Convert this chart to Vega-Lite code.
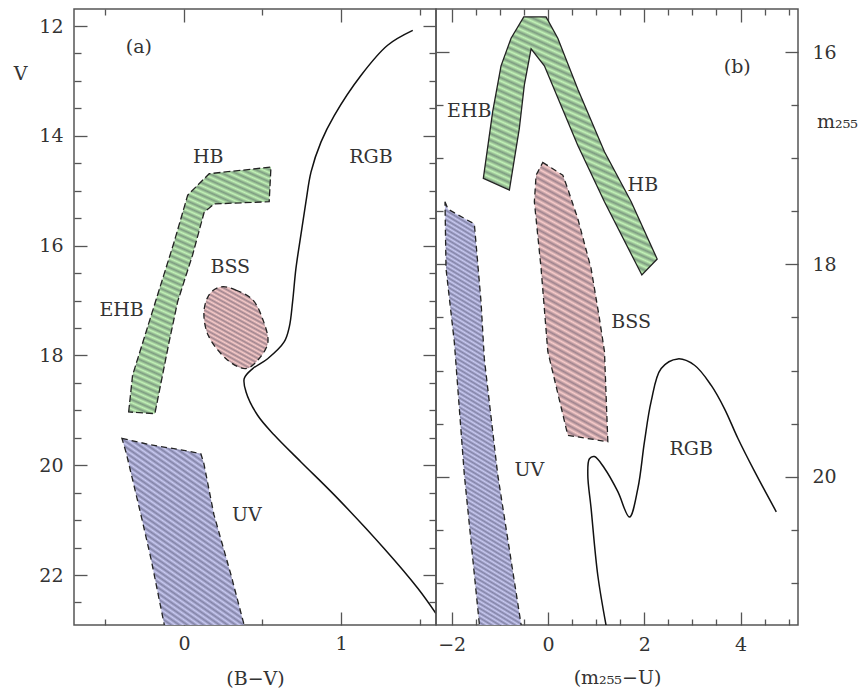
{
  "$schema": "https://vega.github.io/schema/vega-lite/v6.json",
  "background": "white",
  "padding": {"left": 12, "top": 7, "right": 0, "bottom": 0},
  "params": [
    {"name": "h25", "value": [
      {"offset":0,"color":"#0000"},{"offset":0.02,"color":"#0b0b2a60"},{"offset":0.04,"color":"#0000"},{"offset":0.06,"color":"#0b0b2a60"},{"offset":0.08,"color":"#0000"},{"offset":0.1,"color":"#0b0b2a60"},{"offset":0.12,"color":"#0000"},{"offset":0.14,"color":"#0b0b2a60"},{"offset":0.16,"color":"#0000"},{"offset":0.18,"color":"#0b0b2a60"},{"offset":0.2,"color":"#0000"},{"offset":0.22,"color":"#0b0b2a60"},{"offset":0.24,"color":"#0000"},{"offset":0.26,"color":"#0b0b2a60"},{"offset":0.28,"color":"#0000"},{"offset":0.3,"color":"#0b0b2a60"},{"offset":0.32,"color":"#0000"},{"offset":0.34,"color":"#0b0b2a60"},{"offset":0.36,"color":"#0000"},{"offset":0.38,"color":"#0b0b2a60"},{"offset":0.4,"color":"#0000"},{"offset":0.42,"color":"#0b0b2a60"},{"offset":0.44,"color":"#0000"},{"offset":0.46,"color":"#0b0b2a60"},{"offset":0.48,"color":"#0000"},{"offset":0.5,"color":"#0b0b2a60"},{"offset":0.52,"color":"#0000"},{"offset":0.54,"color":"#0b0b2a60"},{"offset":0.56,"color":"#0000"},{"offset":0.58,"color":"#0b0b2a60"},{"offset":0.6,"color":"#0000"},{"offset":0.62,"color":"#0b0b2a60"},{"offset":0.64,"color":"#0000"},{"offset":0.66,"color":"#0b0b2a60"},{"offset":0.68,"color":"#0000"},{"offset":0.7,"color":"#0b0b2a60"},{"offset":0.72,"color":"#0000"},{"offset":0.74,"color":"#0b0b2a60"},{"offset":0.76,"color":"#0000"},{"offset":0.78,"color":"#0b0b2a60"},{"offset":0.8,"color":"#0000"},{"offset":0.82,"color":"#0b0b2a60"},{"offset":0.84,"color":"#0000"},{"offset":0.86,"color":"#0b0b2a60"},{"offset":0.88,"color":"#0000"},{"offset":0.9,"color":"#0b0b2a60"},{"offset":0.92,"color":"#0000"},{"offset":0.94,"color":"#0b0b2a60"},{"offset":0.96,"color":"#0000"},{"offset":0.98,"color":"#0b0b2a60"},{"offset":1,"color":"#0000"}
    ]},
    {"name": "h50", "value": [
      {"offset":0,"color":"#0000"},{"offset":0.01,"color":"#0b0b2a60"},{"offset":0.02,"color":"#0000"},{"offset":0.03,"color":"#0b0b2a60"},{"offset":0.04,"color":"#0000"},{"offset":0.05,"color":"#0b0b2a60"},{"offset":0.06,"color":"#0000"},{"offset":0.07,"color":"#0b0b2a60"},{"offset":0.08,"color":"#0000"},{"offset":0.09,"color":"#0b0b2a60"},
      {"offset":0.1,"color":"#0000"},{"offset":0.11,"color":"#0b0b2a60"},{"offset":0.12,"color":"#0000"},{"offset":0.13,"color":"#0b0b2a60"},{"offset":0.14,"color":"#0000"},{"offset":0.15,"color":"#0b0b2a60"},{"offset":0.16,"color":"#0000"},{"offset":0.17,"color":"#0b0b2a60"},{"offset":0.18,"color":"#0000"},{"offset":0.19,"color":"#0b0b2a60"},
      {"offset":0.2,"color":"#0000"},{"offset":0.21,"color":"#0b0b2a60"},{"offset":0.22,"color":"#0000"},{"offset":0.23,"color":"#0b0b2a60"},{"offset":0.24,"color":"#0000"},{"offset":0.25,"color":"#0b0b2a60"},{"offset":0.26,"color":"#0000"},{"offset":0.27,"color":"#0b0b2a60"},{"offset":0.28,"color":"#0000"},{"offset":0.29,"color":"#0b0b2a60"},
      {"offset":0.3,"color":"#0000"},{"offset":0.31,"color":"#0b0b2a60"},{"offset":0.32,"color":"#0000"},{"offset":0.33,"color":"#0b0b2a60"},{"offset":0.34,"color":"#0000"},{"offset":0.35,"color":"#0b0b2a60"},{"offset":0.36,"color":"#0000"},{"offset":0.37,"color":"#0b0b2a60"},{"offset":0.38,"color":"#0000"},{"offset":0.39,"color":"#0b0b2a60"},
      {"offset":0.4,"color":"#0000"},{"offset":0.41,"color":"#0b0b2a60"},{"offset":0.42,"color":"#0000"},{"offset":0.43,"color":"#0b0b2a60"},{"offset":0.44,"color":"#0000"},{"offset":0.45,"color":"#0b0b2a60"},{"offset":0.46,"color":"#0000"},{"offset":0.47,"color":"#0b0b2a60"},{"offset":0.48,"color":"#0000"},{"offset":0.49,"color":"#0b0b2a60"},
      {"offset":0.5,"color":"#0000"},{"offset":0.51,"color":"#0b0b2a60"},{"offset":0.52,"color":"#0000"},{"offset":0.53,"color":"#0b0b2a60"},{"offset":0.54,"color":"#0000"},{"offset":0.55,"color":"#0b0b2a60"},{"offset":0.56,"color":"#0000"},{"offset":0.57,"color":"#0b0b2a60"},{"offset":0.58,"color":"#0000"},{"offset":0.59,"color":"#0b0b2a60"},
      {"offset":0.6,"color":"#0000"},{"offset":0.61,"color":"#0b0b2a60"},{"offset":0.62,"color":"#0000"},{"offset":0.63,"color":"#0b0b2a60"},{"offset":0.64,"color":"#0000"},{"offset":0.65,"color":"#0b0b2a60"},{"offset":0.66,"color":"#0000"},{"offset":0.67,"color":"#0b0b2a60"},{"offset":0.68,"color":"#0000"},{"offset":0.69,"color":"#0b0b2a60"},
      {"offset":0.7,"color":"#0000"},{"offset":0.71,"color":"#0b0b2a60"},{"offset":0.72,"color":"#0000"},{"offset":0.73,"color":"#0b0b2a60"},{"offset":0.74,"color":"#0000"},{"offset":0.75,"color":"#0b0b2a60"},{"offset":0.76,"color":"#0000"},{"offset":0.77,"color":"#0b0b2a60"},{"offset":0.78,"color":"#0000"},{"offset":0.79,"color":"#0b0b2a60"},
      {"offset":0.8,"color":"#0000"},{"offset":0.81,"color":"#0b0b2a60"},{"offset":0.82,"color":"#0000"},{"offset":0.83,"color":"#0b0b2a60"},{"offset":0.84,"color":"#0000"},{"offset":0.85,"color":"#0b0b2a60"},{"offset":0.86,"color":"#0000"},{"offset":0.87,"color":"#0b0b2a60"},{"offset":0.88,"color":"#0000"},{"offset":0.89,"color":"#0b0b2a60"},
      {"offset":0.9,"color":"#0000"},{"offset":0.91,"color":"#0b0b2a60"},{"offset":0.92,"color":"#0000"},{"offset":0.93,"color":"#0b0b2a60"},{"offset":0.94,"color":"#0000"},{"offset":0.95,"color":"#0b0b2a60"},{"offset":0.96,"color":"#0000"},{"offset":0.97,"color":"#0b0b2a60"},{"offset":0.98,"color":"#0000"},{"offset":0.99,"color":"#0b0b2a60"},
      {"offset":1,"color":"#0000"}
    ]},
    {"name": "h100", "value": [
      {"offset":0,"color":"#0000"},{"offset":0.005,"color":"#0b0b2a60"},{"offset":0.01,"color":"#0000"},{"offset":0.015,"color":"#0b0b2a60"},{"offset":0.02,"color":"#0000"},{"offset":0.025,"color":"#0b0b2a60"},{"offset":0.03,"color":"#0000"},{"offset":0.035,"color":"#0b0b2a60"},{"offset":0.04,"color":"#0000"},{"offset":0.045,"color":"#0b0b2a60"},
      {"offset":0.05,"color":"#0000"},{"offset":0.055,"color":"#0b0b2a60"},{"offset":0.06,"color":"#0000"},{"offset":0.065,"color":"#0b0b2a60"},{"offset":0.07,"color":"#0000"},{"offset":0.075,"color":"#0b0b2a60"},{"offset":0.08,"color":"#0000"},{"offset":0.085,"color":"#0b0b2a60"},{"offset":0.09,"color":"#0000"},{"offset":0.095,"color":"#0b0b2a60"},
      {"offset":0.1,"color":"#0000"},{"offset":0.105,"color":"#0b0b2a60"},{"offset":0.11,"color":"#0000"},{"offset":0.115,"color":"#0b0b2a60"},{"offset":0.12,"color":"#0000"},{"offset":0.125,"color":"#0b0b2a60"},{"offset":0.13,"color":"#0000"},{"offset":0.135,"color":"#0b0b2a60"},{"offset":0.14,"color":"#0000"},{"offset":0.145,"color":"#0b0b2a60"},
      {"offset":0.15,"color":"#0000"},{"offset":0.155,"color":"#0b0b2a60"},{"offset":0.16,"color":"#0000"},{"offset":0.165,"color":"#0b0b2a60"},{"offset":0.17,"color":"#0000"},{"offset":0.175,"color":"#0b0b2a60"},{"offset":0.18,"color":"#0000"},{"offset":0.185,"color":"#0b0b2a60"},{"offset":0.19,"color":"#0000"},{"offset":0.195,"color":"#0b0b2a60"},
      {"offset":0.2,"color":"#0000"},{"offset":0.205,"color":"#0b0b2a60"},{"offset":0.21,"color":"#0000"},{"offset":0.215,"color":"#0b0b2a60"},{"offset":0.22,"color":"#0000"},{"offset":0.225,"color":"#0b0b2a60"},{"offset":0.23,"color":"#0000"},{"offset":0.235,"color":"#0b0b2a60"},{"offset":0.24,"color":"#0000"},{"offset":0.245,"color":"#0b0b2a60"},
      {"offset":0.25,"color":"#0000"},{"offset":0.255,"color":"#0b0b2a60"},{"offset":0.26,"color":"#0000"},{"offset":0.265,"color":"#0b0b2a60"},{"offset":0.27,"color":"#0000"},{"offset":0.275,"color":"#0b0b2a60"},{"offset":0.28,"color":"#0000"},{"offset":0.285,"color":"#0b0b2a60"},{"offset":0.29,"color":"#0000"},{"offset":0.295,"color":"#0b0b2a60"},
      {"offset":0.3,"color":"#0000"},{"offset":0.305,"color":"#0b0b2a60"},{"offset":0.31,"color":"#0000"},{"offset":0.315,"color":"#0b0b2a60"},{"offset":0.32,"color":"#0000"},{"offset":0.325,"color":"#0b0b2a60"},{"offset":0.33,"color":"#0000"},{"offset":0.335,"color":"#0b0b2a60"},{"offset":0.34,"color":"#0000"},{"offset":0.345,"color":"#0b0b2a60"},
      {"offset":0.35,"color":"#0000"},{"offset":0.355,"color":"#0b0b2a60"},{"offset":0.36,"color":"#0000"},{"offset":0.365,"color":"#0b0b2a60"},{"offset":0.37,"color":"#0000"},{"offset":0.375,"color":"#0b0b2a60"},{"offset":0.38,"color":"#0000"},{"offset":0.385,"color":"#0b0b2a60"},{"offset":0.39,"color":"#0000"},{"offset":0.395,"color":"#0b0b2a60"},
      {"offset":0.4,"color":"#0000"},{"offset":0.405,"color":"#0b0b2a60"},{"offset":0.41,"color":"#0000"},{"offset":0.415,"color":"#0b0b2a60"},{"offset":0.42,"color":"#0000"},{"offset":0.425,"color":"#0b0b2a60"},{"offset":0.43,"color":"#0000"},{"offset":0.435,"color":"#0b0b2a60"},{"offset":0.44,"color":"#0000"},{"offset":0.445,"color":"#0b0b2a60"},
      {"offset":0.45,"color":"#0000"},{"offset":0.455,"color":"#0b0b2a60"},{"offset":0.46,"color":"#0000"},{"offset":0.465,"color":"#0b0b2a60"},{"offset":0.47,"color":"#0000"},{"offset":0.475,"color":"#0b0b2a60"},{"offset":0.48,"color":"#0000"},{"offset":0.485,"color":"#0b0b2a60"},{"offset":0.49,"color":"#0000"},{"offset":0.495,"color":"#0b0b2a60"},
      {"offset":0.5,"color":"#0000"},{"offset":0.505,"color":"#0b0b2a60"},{"offset":0.51,"color":"#0000"},{"offset":0.515,"color":"#0b0b2a60"},{"offset":0.52,"color":"#0000"},{"offset":0.525,"color":"#0b0b2a60"},{"offset":0.53,"color":"#0000"},{"offset":0.535,"color":"#0b0b2a60"},{"offset":0.54,"color":"#0000"},{"offset":0.545,"color":"#0b0b2a60"},
      {"offset":0.55,"color":"#0000"},{"offset":0.555,"color":"#0b0b2a60"},{"offset":0.56,"color":"#0000"},{"offset":0.565,"color":"#0b0b2a60"},{"offset":0.57,"color":"#0000"},{"offset":0.575,"color":"#0b0b2a60"},{"offset":0.58,"color":"#0000"},{"offset":0.585,"color":"#0b0b2a60"},{"offset":0.59,"color":"#0000"},{"offset":0.595,"color":"#0b0b2a60"},
      {"offset":0.6,"color":"#0000"},{"offset":0.605,"color":"#0b0b2a60"},{"offset":0.61,"color":"#0000"},{"offset":0.615,"color":"#0b0b2a60"},{"offset":0.62,"color":"#0000"},{"offset":0.625,"color":"#0b0b2a60"},{"offset":0.63,"color":"#0000"},{"offset":0.635,"color":"#0b0b2a60"},{"offset":0.64,"color":"#0000"},{"offset":0.645,"color":"#0b0b2a60"},
      {"offset":0.65,"color":"#0000"},{"offset":0.655,"color":"#0b0b2a60"},{"offset":0.66,"color":"#0000"},{"offset":0.665,"color":"#0b0b2a60"},{"offset":0.67,"color":"#0000"},{"offset":0.675,"color":"#0b0b2a60"},{"offset":0.68,"color":"#0000"},{"offset":0.685,"color":"#0b0b2a60"},{"offset":0.69,"color":"#0000"},{"offset":0.695,"color":"#0b0b2a60"},
      {"offset":0.7,"color":"#0000"},{"offset":0.705,"color":"#0b0b2a60"},{"offset":0.71,"color":"#0000"},{"offset":0.715,"color":"#0b0b2a60"},{"offset":0.72,"color":"#0000"},{"offset":0.725,"color":"#0b0b2a60"},{"offset":0.73,"color":"#0000"},{"offset":0.735,"color":"#0b0b2a60"},{"offset":0.74,"color":"#0000"},{"offset":0.745,"color":"#0b0b2a60"},
      {"offset":0.75,"color":"#0000"},{"offset":0.755,"color":"#0b0b2a60"},{"offset":0.76,"color":"#0000"},{"offset":0.765,"color":"#0b0b2a60"},{"offset":0.77,"color":"#0000"},{"offset":0.775,"color":"#0b0b2a60"},{"offset":0.78,"color":"#0000"},{"offset":0.785,"color":"#0b0b2a60"},{"offset":0.79,"color":"#0000"},{"offset":0.795,"color":"#0b0b2a60"},
      {"offset":0.8,"color":"#0000"},{"offset":0.805,"color":"#0b0b2a60"},{"offset":0.81,"color":"#0000"},{"offset":0.815,"color":"#0b0b2a60"},{"offset":0.82,"color":"#0000"},{"offset":0.825,"color":"#0b0b2a60"},{"offset":0.83,"color":"#0000"},{"offset":0.835,"color":"#0b0b2a60"},{"offset":0.84,"color":"#0000"},{"offset":0.845,"color":"#0b0b2a60"},
      {"offset":0.85,"color":"#0000"},{"offset":0.855,"color":"#0b0b2a60"},{"offset":0.86,"color":"#0000"},{"offset":0.865,"color":"#0b0b2a60"},{"offset":0.87,"color":"#0000"},{"offset":0.875,"color":"#0b0b2a60"},{"offset":0.88,"color":"#0000"},{"offset":0.885,"color":"#0b0b2a60"},{"offset":0.89,"color":"#0000"},{"offset":0.895,"color":"#0b0b2a60"},
      {"offset":0.9,"color":"#0000"},{"offset":0.905,"color":"#0b0b2a60"},{"offset":0.91,"color":"#0000"},{"offset":0.915,"color":"#0b0b2a60"},{"offset":0.92,"color":"#0000"},{"offset":0.925,"color":"#0b0b2a60"},{"offset":0.93,"color":"#0000"},{"offset":0.935,"color":"#0b0b2a60"},{"offset":0.94,"color":"#0000"},{"offset":0.945,"color":"#0b0b2a60"},
      {"offset":0.95,"color":"#0000"},{"offset":0.955,"color":"#0b0b2a60"},{"offset":0.96,"color":"#0000"},{"offset":0.965,"color":"#0b0b2a60"},{"offset":0.97,"color":"#0000"},{"offset":0.975,"color":"#0b0b2a60"},{"offset":0.98,"color":"#0000"},{"offset":0.985,"color":"#0b0b2a60"},{"offset":0.99,"color":"#0000"},{"offset":0.995,"color":"#0b0b2a60"},
      {"offset":1,"color":"#0000"}
    ]}
  ],
  "datasets": {
    "A": [
      {"r":"HB","i":1,"x":-0.352,"y":19.03},{"r":"HB","i":2,"x":-0.327,"y":18.36},{"r":"HB","i":3,"x":-0.168,"y":16.90},{"r":"HB","i":4,"x":-0.062,"y":15.93},{"r":"HB","i":5,"x":0.024,"y":15.08},{"r":"HB","i":6,"x":0.161,"y":14.69},{"r":"HB","i":7,"x":0.554,"y":14.57},{"r":"HB","i":8,"x":0.543,"y":15.20},{"r":"HB","i":9,"x":0.193,"y":15.24},{"r":"HB","i":10,"x":0.129,"y":15.39},{"r":"HB","i":11,"x":0.055,"y":16.17},{"r":"HB","i":12,"x":-0.040,"y":17.02},{"r":"HB","i":13,"x":-0.094,"y":17.75},{"r":"HB","i":14,"x":-0.185,"y":19.06},
      {"r":"BSS","i":1,"x":0.236,"y":16.75},{"r":"BSS","i":2,"x":0.331,"y":16.81},{"r":"BSS","i":3,"x":0.439,"y":16.99},{"r":"BSS","i":4,"x":0.503,"y":17.35},{"r":"BSS","i":5,"x":0.535,"y":17.75},{"r":"BSS","i":6,"x":0.478,"y":18.06},{"r":"BSS","i":7,"x":0.389,"y":18.24},{"r":"BSS","i":8,"x":0.268,"y":18.06},{"r":"BSS","i":9,"x":0.159,"y":17.66},{"r":"BSS","i":10,"x":0.127,"y":17.24},{"r":"BSS","i":11,"x":0.159,"y":16.90},
      {"r":"UV","i":1,"x":-0.395,"y":19.51},{"r":"UV","i":2,"x":-0.210,"y":19.63},{"r":"UV","i":3,"x":-0.019,"y":19.72},{"r":"UV","i":4,"x":0.108,"y":19.79},{"r":"UV","i":5,"x":0.127,"y":19.97},{"r":"UV","i":6,"x":0.191,"y":20.90},{"r":"UV","i":7,"x":0.299,"y":21.99},{"r":"UV","i":8,"x":0.396,"y":23.05},{"r":"UV","i":9,"x":-0.115,"y":23.05},{"r":"UV","i":10,"x":-0.210,"y":21.70},{"r":"UV","i":11,"x":-0.274,"y":20.90},{"r":"UV","i":12,"x":-0.369,"y":19.76},
      {"r":"RGB","i":1,"x":1.457,"y":12.08},{"r":"RGB","i":2,"x":1.297,"y":12.35},{"r":"RGB","i":3,"x":1.127,"y":12.90},{"r":"RGB","i":4,"x":0.957,"y":13.63},{"r":"RGB","i":5,"x":0.873,"y":14.11},{"r":"RGB","i":6,"x":0.809,"y":14.66},{"r":"RGB","i":7,"x":0.777,"y":15.20},{"r":"RGB","i":8,"x":0.745,"y":15.80},{"r":"RGB","i":9,"x":0.713,"y":16.42},{"r":"RGB","i":10,"x":0.692,"y":17.02},{"r":"RGB","i":11,"x":0.671,"y":17.48},{"r":"RGB","i":12,"x":0.639,"y":17.75},{"r":"RGB","i":13,"x":0.533,"y":18.06},{"r":"RGB","i":14,"x":0.438,"y":18.24},{"r":"RGB","i":15,"x":0.384,"y":18.42},{"r":"RGB","i":16,"x":0.395,"y":18.66},{"r":"RGB","i":17,"x":0.469,"y":19.09},{"r":"RGB","i":18,"x":0.575,"y":19.45},{"r":"RGB","i":19,"x":0.745,"y":19.94},{"r":"RGB","i":20,"x":0.957,"y":20.54},{"r":"RGB","i":21,"x":1.276,"y":21.52},{"r":"RGB","i":22,"x":1.489,"y":22.24},{"r":"RGB","i":23,"x":1.605,"y":22.70}
    ],
    "B": [
      {"r":"HB","i":1,"x":-1.343,"y":17.19},{"r":"HB","i":2,"x":-1.148,"y":16.56},{"r":"HB","i":3,"x":-0.975,"y":16.13},{"r":"HB","i":4,"x":-0.767,"y":15.87},{"r":"HB","i":5,"x":-0.503,"y":15.67},{"r":"HB","i":6,"x":-0.040,"y":15.67},{"r":"HB","i":7,"x":0.204,"y":15.87},{"r":"HB","i":8,"x":0.620,"y":16.35},{"r":"HB","i":9,"x":1.173,"y":16.94},{"r":"HB","i":10,"x":1.728,"y":17.41},{"r":"HB","i":11,"x":2.268,"y":17.95},{"r":"HB","i":12,"x":1.950,"y":18.10},{"r":"HB","i":13,"x":1.173,"y":17.41},{"r":"HB","i":14,"x":0.620,"y":16.88},{"r":"HB","i":15,"x":-0.075,"y":16.13},{"r":"HB","i":16,"x":-0.351,"y":15.97},{"r":"HB","i":17,"x":-0.491,"y":16.31},{"r":"HB","i":18,"x":-0.595,"y":16.72},{"r":"HB","i":19,"x":-0.802,"y":17.30},
      {"r":"BSS","i":1,"x":-0.108,"y":17.04},{"r":"BSS","i":2,"x":0.308,"y":17.16},{"r":"BSS","i":3,"x":0.412,"y":17.29},{"r":"BSS","i":4,"x":0.620,"y":17.57},{"r":"BSS","i":5,"x":0.896,"y":18.04},{"r":"BSS","i":6,"x":1.069,"y":18.51},{"r":"BSS","i":7,"x":1.173,"y":18.82},{"r":"BSS","i":8,"x":1.243,"y":19.67},{"r":"BSS","i":9,"x":0.412,"y":19.61},{"r":"BSS","i":10,"x":-0.004,"y":18.82},{"r":"BSS","i":11,"x":-0.143,"y":18.04},{"r":"BSS","i":12,"x":-0.283,"y":17.41},{"r":"BSS","i":13,"x":-0.247,"y":17.16},
      {"r":"UV","i":1,"x":-2.139,"y":17.41},{"r":"UV","i":2,"x":-2.077,"y":17.48},{"r":"UV","i":3,"x":-1.530,"y":17.62},{"r":"UV","i":4,"x":-1.516,"y":17.69},{"r":"UV","i":5,"x":-1.391,"y":18.35},{"r":"UV","i":6,"x":-1.322,"y":18.89},{"r":"UV","i":7,"x":-1.044,"y":19.98},{"r":"UV","i":8,"x":-0.549,"y":21.42},{"r":"UV","i":9,"x":-1.419,"y":21.42},{"r":"UV","i":10,"x":-1.738,"y":19.98},{"r":"UV","i":11,"x":-1.946,"y":18.73},{"r":"UV","i":12,"x":-2.118,"y":18.04},
      {"r":"RGB","i":1,"x":1.215,"y":21.42},{"r":"RGB","i":2,"x":1.035,"y":20.93},{"r":"RGB","i":3,"x":0.896,"y":20.30},{"r":"RGB","i":4,"x":0.827,"y":19.98},{"r":"RGB","i":5,"x":0.861,"y":19.83},{"r":"RGB","i":6,"x":0.965,"y":19.81},{"r":"RGB","i":7,"x":1.173,"y":19.92},{"r":"RGB","i":8,"x":1.451,"y":20.14},{"r":"RGB","i":9,"x":1.692,"y":20.38},{"r":"RGB","i":10,"x":1.867,"y":20.11},{"r":"RGB","i":11,"x":2.004,"y":19.67},{"r":"RGB","i":12,"x":2.143,"y":19.29},{"r":"RGB","i":13,"x":2.351,"y":18.98},{"r":"RGB","i":14,"x":2.699,"y":18.89},{"r":"RGB","i":15,"x":3.044,"y":18.95},{"r":"RGB","i":16,"x":3.391,"y":19.14},{"r":"RGB","i":17,"x":3.667,"y":19.36},{"r":"RGB","i":18,"x":3.946,"y":19.64},{"r":"RGB","i":19,"x":4.291,"y":19.95},{"r":"RGB","i":20,"x":4.742,"y":20.33}
    ],
    "LA": [
      {"t":"(a)","x":-0.287,"y":12.38},{"t":"HB","x":0.155,"y":14.38},{"t":"RGB","x":1.191,"y":14.38},{"t":"BSS","x":0.295,"y":16.39},{"t":"EHB","x":-0.397,"y":17.18},{"t":"UV","x":0.401,"y":20.91}
    ],
    "LB": [
      {"t":"(b)","x":3.931,"y":16.14},{"t":"EHB","x":-1.634,"y":16.56},{"t":"HB","x":1.971,"y":17.25},{"t":"BSS","x":1.728,"y":18.54},{"t":"UV","x":-0.387,"y":19.94},{"t":"RGB","x":2.975,"y":19.74}
    ]
  },
  "spacing": 0,
  "bounds": "flush",
  "hconcat": [
    {
      "width": 362,
      "height": 616,
      "encoding": {
        "x": {"field": "x", "type": "quantitative", "scale": {"domain": [-0.7, 1.605], "nice": false, "zero": false}, "axis": null},
        "y": {"field": "y", "type": "quantitative", "scale": {"domain": [11.69, 22.91], "nice": false, "zero": false, "reverse": true}, "axis": null}
      },
      "layer": [
        {
          "data": {"name": "A"},
          "transform": [{"filter": "datum.r == 'HB'"}],
          "mark": {"type": "line", "interpolate": "linear-closed", "fill": "#c2f3b8", "strokeOpacity": 0},
          "encoding": {
            "x": {"field": "x", "type": "quantitative", "scale": {"domain": [-0.7, 1.605], "nice": false, "zero": false},
              "axis": {"orient": "bottom", "values": [-0.5, 0, 0.5, 1, 1.5], "format": "~g", "labelExpr": "datum.value % 1 == 0 ? datum.label : ''",
                "tickSize": {"condition": {"test": "datum.value % 1 == 0", "value": -13}, "value": -6},
                "labelPadding": 22, "title": "(B−V)", "titleX": 181, "titleY": 53, "titleAlign": "center", "titleBaseline": "middle"}},
            "y": {"field": "y", "type": "quantitative", "scale": {"domain": [11.69, 22.91], "nice": false, "zero": false, "reverse": true},
              "axis": {"orient": "left", "values": [12, 12.5, 13, 13.5, 14, 14.5, 15, 15.5, 16, 16.5, 17, 17.5, 18, 18.5, 19, 19.5, 20, 20.5, 21, 21.5, 22, 22.5], "format": "~g",
                "labelExpr": "datum.value % 2 == 0 ? datum.label : ''",
                "tickSize": {"condition": {"test": "datum.value % 2 == 0", "value": -13}, "value": -7},
                "labelPadding": 24, "title": "V", "titleAngle": 0, "titleX": -54, "titleY": 64.5, "titleAlign": "center", "titleBaseline": "middle"}},
            "order": {"field": "i", "type": "quantitative"}
          }
        },
        {
          "data": {"name": "A"},
          "transform": [{"filter": "datum.r == 'HB'"}],
          "mark": {"type": "line", "interpolate": "linear-closed", "fill": {"expr": "{gradient: 'linear', x1: 1, y1: 0, x2: 0.695, y2: 1.18, stops: h50}"}, "stroke": "#222", "strokeWidth": 1.3, "strokeDash": [7, 3]},
          "encoding": {
            "x": {"field": "x", "type": "quantitative", "scale": {"domain": [-0.7, 1.605], "nice": false, "zero": false},
              "axis": {"orient": "top", "values": [-0.5, 0, 0.5, 1, 1.5], "labels": false, "title": null,
                "tickSize": {"condition": {"test": "datum.value % 1 == 0", "value": -13}, "value": -6}}},
            "y": {"field": "y", "type": "quantitative", "scale": {"domain": [11.69, 22.91], "nice": false, "zero": false, "reverse": true},
              "axis": {"orient": "right", "values": [12, 12.5, 13, 13.5, 14, 14.5, 15, 15.5, 16, 16.5, 17, 17.5, 18, 18.5, 19, 19.5, 20, 20.5, 21, 21.5, 22, 22.5], "labels": false, "title": null,
                "tickSize": {"condition": {"test": "datum.value % 2 == 0", "value": -13}, "value": -7}}},
            "order": {"field": "i", "type": "quantitative"}
          }
        },
        {
          "data": {"name": "A"},
          "transform": [{"filter": "datum.r == 'BSS'"}],
          "mark": {"type": "line", "interpolate": "cardinal-closed", "fill": "#f9cccc", "strokeOpacity": 0},
          "encoding": {"order": {"field": "i", "type": "quantitative"}}
        },
        {
          "data": {"name": "A"},
          "transform": [{"filter": "datum.r == 'BSS'"}],
          "mark": {"type": "line", "interpolate": "cardinal-closed", "fill": {"expr": "{gradient: 'linear', x1: 1, y1: 0, x2: 0.4785, y2: 1.2067, stops: h25}"}, "stroke": "#222", "strokeWidth": 1.3, "strokeDash": [6, 4]},
          "encoding": {"order": {"field": "i", "type": "quantitative"}}
        },
        {
          "data": {"name": "A"},
          "transform": [{"filter": "datum.r == 'UV'"}],
          "mark": {"type": "line", "interpolate": "linear-closed", "clip": true, "fill": "#c9caf4", "strokeOpacity": 0},
          "encoding": {"order": {"field": "i", "type": "quantitative"}}
        },
        {
          "data": {"name": "A"},
          "transform": [{"filter": "datum.r == 'UV'"}],
          "mark": {"type": "line", "interpolate": "linear-closed", "clip": true, "fill": {"expr": "{gradient: 'linear', x1: 1, y1: 0, x2: 0.4617, y2: 1.2061, stops: h50}"}, "stroke": "#222", "strokeWidth": 1.3, "strokeDash": [6, 4]},
          "encoding": {"order": {"field": "i", "type": "quantitative"}}
        },
        {
          "data": {"name": "A"},
          "transform": [{"filter": "datum.r == 'RGB'"}],
          "mark": {"type": "line", "interpolate": "catmull-rom", "clip": true, "stroke": "#111", "strokeWidth": 1.5},
          "encoding": {"order": {"field": "i", "type": "quantitative"}}
        },
        {
          "data": {"name": "LA"},
          "mark": {"type": "text", "font": "DejaVu Serif", "fontSize": 19, "color": "#333", "align": "center", "baseline": "middle"},
          "encoding": {"text": {"field": "t"}}
        }
      ],
      "resolve": {"axis": {"x": "independent", "y": "independent"}}
    },
    {
      "width": 362,
      "height": 616,
      "encoding": {
        "x": {"field": "x", "type": "quantitative", "scale": {"domain": [-2.326, 5.193], "nice": false, "zero": false}, "axis": null},
        "y": {"field": "y", "type": "quantitative", "scale": {"domain": [15.595, 21.396], "nice": false, "zero": false, "reverse": true}, "axis": null}
      },
      "layer": [
        {
          "data": {"name": "B"},
          "transform": [{"filter": "datum.r == 'HB'"}],
          "mark": {"type": "line", "interpolate": "linear-closed", "fill": "#c2f3b8", "strokeOpacity": 0},
          "encoding": {
            "x": {"field": "x", "type": "quantitative", "scale": {"domain": [-2.326, 5.193], "nice": false, "zero": false},
              "axis": {"orient": "bottom", "values": [-2, -1.5, -1, -0.5, 0, 0.5, 1, 1.5, 2, 2.5, 3, 3.5, 4, 4.5, 5], "format": "~g", "labelExpr": "datum.value % 2 == 0 ? datum.label : ''",
                "tickSize": {"condition": {"test": "datum.value % 2 == 0", "value": -13}, "value": -6},
                "labelPadding": 23, "title": "(m₂₅₅−U)", "titleX": 181, "titleY": 52, "titleAlign": "center", "titleBaseline": "middle"}},
            "y": {"field": "y", "type": "quantitative", "scale": {"domain": [15.595, 21.396], "nice": false, "zero": false, "reverse": true},
              "axis": {"orient": "right", "values": [16, 16.5, 17, 17.5, 18, 18.5, 19, 19.5, 20, 20.5, 21], "format": "~g",
                "labelExpr": "datum.value % 2 == 0 ? datum.label : ''",
                "tickSize": {"condition": {"test": "datum.value % 2 == 0", "value": -13}, "value": -7},
                "labelPadding": 27, "title": "m₂₅₅", "titleAngle": 0, "titleX": 39, "titleY": 118, "titleAlign": "center", "titleBaseline": "alphabetic"}},
            "order": {"field": "i", "type": "quantitative"}
          }
        },
        {
          "data": {"name": "B"},
          "transform": [{"filter": "datum.r == 'HB'"}],
          "mark": {"type": "line", "interpolate": "linear-closed", "fill": {"expr": "{gradient: 'linear', x1: 1, y1: 0, x2: 0.638, y2: 1.1935, stops: h50}"}, "stroke": "#222", "strokeWidth": 1.3},
          "encoding": {
            "x": {"field": "x", "type": "quantitative", "scale": {"domain": [-2.326, 5.193], "nice": false, "zero": false},
              "axis": {"orient": "top", "values": [-2, -1.5, -1, -0.5, 0, 0.5, 1, 1.5, 2, 2.5, 3, 3.5, 4, 4.5, 5], "labels": false, "title": null,
                "tickSize": {"condition": {"test": "datum.value % 2 == 0", "value": -13}, "value": -6}}},
            "y": {"field": "y", "type": "quantitative", "scale": {"domain": [15.595, 21.396], "nice": false, "zero": false, "reverse": true},
              "axis": {"orient": "left", "values": [16, 16.5, 17, 17.5, 18, 18.5, 19, 19.5, 20, 20.5, 21], "labels": false, "title": null,
                "tickSize": {"condition": {"test": "datum.value % 2 == 0", "value": -13}, "value": -7}}},
            "order": {"field": "i", "type": "quantitative"}
          }
        },
        {
          "data": {"name": "B"},
          "transform": [{"filter": "datum.r == 'BSS'"}],
          "mark": {"type": "line", "interpolate": "linear-closed", "fill": "#f9cccc", "strokeOpacity": 0},
          "encoding": {"order": {"field": "i", "type": "quantitative"}}
        },
        {
          "data": {"name": "B"},
          "transform": [{"filter": "datum.r == 'BSS'"}],
          "mark": {"type": "line", "interpolate": "linear-closed", "fill": {"expr": "{gradient: 'linear', x1: 1, y1: 0, x2: 0.837, y2: 1.1217, stops: h50}"}, "stroke": "#222", "strokeWidth": 1.3, "strokeDash": [6, 4]},
          "encoding": {"order": {"field": "i", "type": "quantitative"}}
        },
        {
          "data": {"name": "B"},
          "transform": [{"filter": "datum.r == 'UV'"}],
          "mark": {"type": "line", "interpolate": "linear-closed", "clip": true, "fill": "#c9caf4", "strokeOpacity": 0},
          "encoding": {"order": {"field": "i", "type": "quantitative"}}
        },
        {
          "data": {"name": "B"},
          "transform": [{"filter": "datum.r == 'UV'"}],
          "mark": {"type": "line", "interpolate": "linear-closed", "clip": true, "fill": {"expr": "{gradient: 'linear', x1: 1, y1: 0, x2: 0.881, y2: 1.0956, stops: h100}"}, "stroke": "#222", "strokeWidth": 1.3, "strokeDash": [6, 4]},
          "encoding": {"order": {"field": "i", "type": "quantitative"}}
        },
        {
          "data": {"name": "B"},
          "transform": [{"filter": "datum.r == 'RGB'"}],
          "mark": {"type": "line", "interpolate": "catmull-rom", "clip": true, "stroke": "#111", "strokeWidth": 1.5},
          "encoding": {"order": {"field": "i", "type": "quantitative"}}
        },
        {
          "data": {"name": "LB"},
          "mark": {"type": "text", "font": "DejaVu Serif", "fontSize": 19, "color": "#333", "align": "center", "baseline": "middle"},
          "encoding": {"text": {"field": "t"}}
        }
      ],
      "resolve": {"axis": {"x": "independent", "y": "independent"}}
    }
  ],
  "config": {
    "view": {"stroke": "#555", "strokeWidth": 1.5},
    "axis": {
      "domain": false,
      "grid": false,
      "tickColor": "#555",
      "tickWidth": 1.3,
      "labelFont": "DejaVu Serif",
      "labelFontSize": 19,
      "labelColor": "#333",
      "titleFont": "DejaVu Serif",
      "titleFontSize": 19,
      "titleFontWeight": "normal",
      "titleColor": "#333",
      "labelOverlap": false,
      "labelFlush": false,
      "labelBound": false
    }
  }
}
